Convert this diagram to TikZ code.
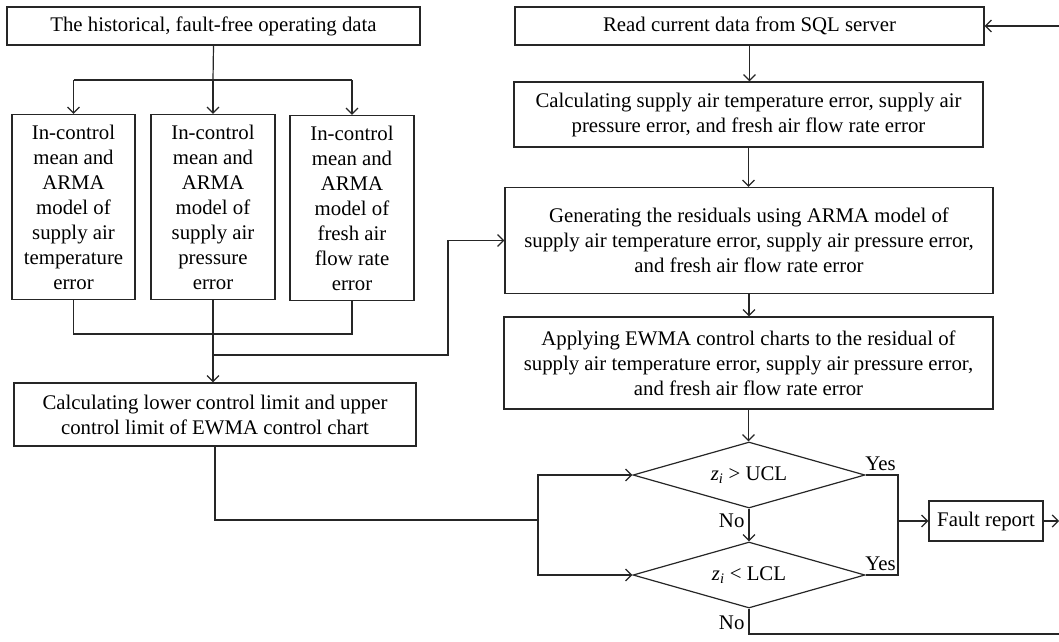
\documentclass[tikz,border=0pt]{standalone}
\usepackage{fontspec}
\setmainfont{Liberation Serif}
\usetikzlibrary{arrows.meta,shapes.geometric}
\begin{document}
\begin{tikzpicture}[x=1pt,y=-1pt,
  line width=1.2pt, draw=black!85,
  box/.style={draw, rectangle, inner sep=0pt, align=center,
    font=\fontsize{20.8}{25}\selectfont},
  dec/.style={draw, diamond, aspect=3.5, inner sep=0pt,
    minimum width=232pt, minimum height=66pt,
    font=\fontsize{20.8}{25}\selectfont},
  lbl/.style={inner sep=0pt, font=\fontsize{20.8}{25}\selectfont},
  arr/.style={-{Straight Barb[length=6pt,width=12pt]}}]
\useasboundingbox (0,0) rectangle (1059,641);

% left column
\node[box, minimum width=413pt, minimum height=38pt] (hist) at (213.5,26)
  {The historical, fault-free operating data};
\node[box, minimum width=123pt, minimum height=185pt] (b1) at (73.5,207)
  {In-control\\mean and\\ARMA\\model of\\supply air\\temperature\\error};
\node[box, minimum width=124pt, minimum height=185pt] (b2) at (213,207)
  {In-control\\mean and\\ARMA\\model of\\supply air\\pressure\\error};
\node[box, minimum width=124pt, minimum height=185pt] (b3) at (352,208)
  {In-control\\mean and\\ARMA\\model of\\fresh air\\flow rate\\error};
\node[box, minimum width=402pt, minimum height=63pt] (lower) at (215,414.5)
  {Calculating lower control limit and upper\\control limit of EWMA control chart};

% right column
\node[box, minimum width=469pt, minimum height=38pt] (read) at (749.5,26)
  {Read current data from SQL server};
\node[box, minimum width=469pt, minimum height=65pt] (calc) at (748.5,114.5)
  {Calculating supply air temperature error, supply air\\pressure error, and fresh air flow rate error};
\node[box, minimum width=488pt, minimum height=106pt] (gen) at (749,240.5)
  {Generating the residuals using ARMA model of\\supply air temperature error, supply air pressure error,\\and fresh air flow rate error};
\node[box, minimum width=489pt, minimum height=92pt] (apply) at (748.5,363)
  {Applying EWMA control charts to the residual of\\supply air temperature error, supply air pressure error,\\and fresh air flow rate error};
\node[dec] (d1) at (749,475) {{\itshape z}\textsubscript{\itshape i} > UCL};
\node[dec] (d2) at (749,575) {{\itshape z}\textsubscript{\itshape i} < LCL};
\node[box, minimum width=114pt, minimum height=40pt] (fault) at (986,521)
  {Fault report};

% labels
\node[lbl, anchor=east] (no1) at (745,521) {No};
\node[lbl, anchor=east] (no2) at (745,623) {No};
\node[lbl] (yes1) at (880.5,464) {Yes};
\node[lbl] (yes2) at (880.5,564) {Yes};

% coordinates
\coordinate (br) at (213,80);
\coordinate (bj) at (213,334);
\coordinate (jn) at (213,355);
\coordinate (up) at (448,355);
\coordinate (lj) at (538,520);
\coordinate (yj) at (898,521);
\coordinate (tin) at (1060,26);
\coordinate (fout) at (1059,521);
\coordinate (bot) at (1060,634);

% left connectors
\draw (hist.south) -- (br);
\draw (b1.north |- br) -- (b3.north |- br);
\draw[arr] (b1.north |- br) -- (b1.north);
\draw[arr] (br) -- (b2.north);
\draw[arr] (b3.north |- br) -- (b3.north);
\draw (b1.south) -- (b1.south |- bj) -- (b3.south |- bj) -- (b3.south);
\draw[arr] (b2.south) -- (b2.south |- lower.north);
\draw[arr] (jn) -- (up) |- (gen.west);
\draw (lower.south) |- (lj);
\draw[arr] (lj) |- (d1.west);
\draw[arr] (lj) |- (d2.west);

% right connectors
\draw[arr] (tin) -- (read.east);
\draw[arr] (read.south) -- (read.south |- calc.north);
\draw[arr] (calc.south) -- (calc.south |- gen.north);
\draw[arr] (gen.south) -- (gen.south |- apply.north);
\draw[arr] (apply.south) -- (apply.south |- d1.north);
\draw[arr] (d1.south) -- (d2.north);
\draw (d1.east) -| (yj) |- (d2.east);
\draw[arr] (yj) -- (fault.west);
\draw[arr] (fault.east) -- (fout);
\draw (d2.south) |- (bot);
\end{tikzpicture}
\end{document}
